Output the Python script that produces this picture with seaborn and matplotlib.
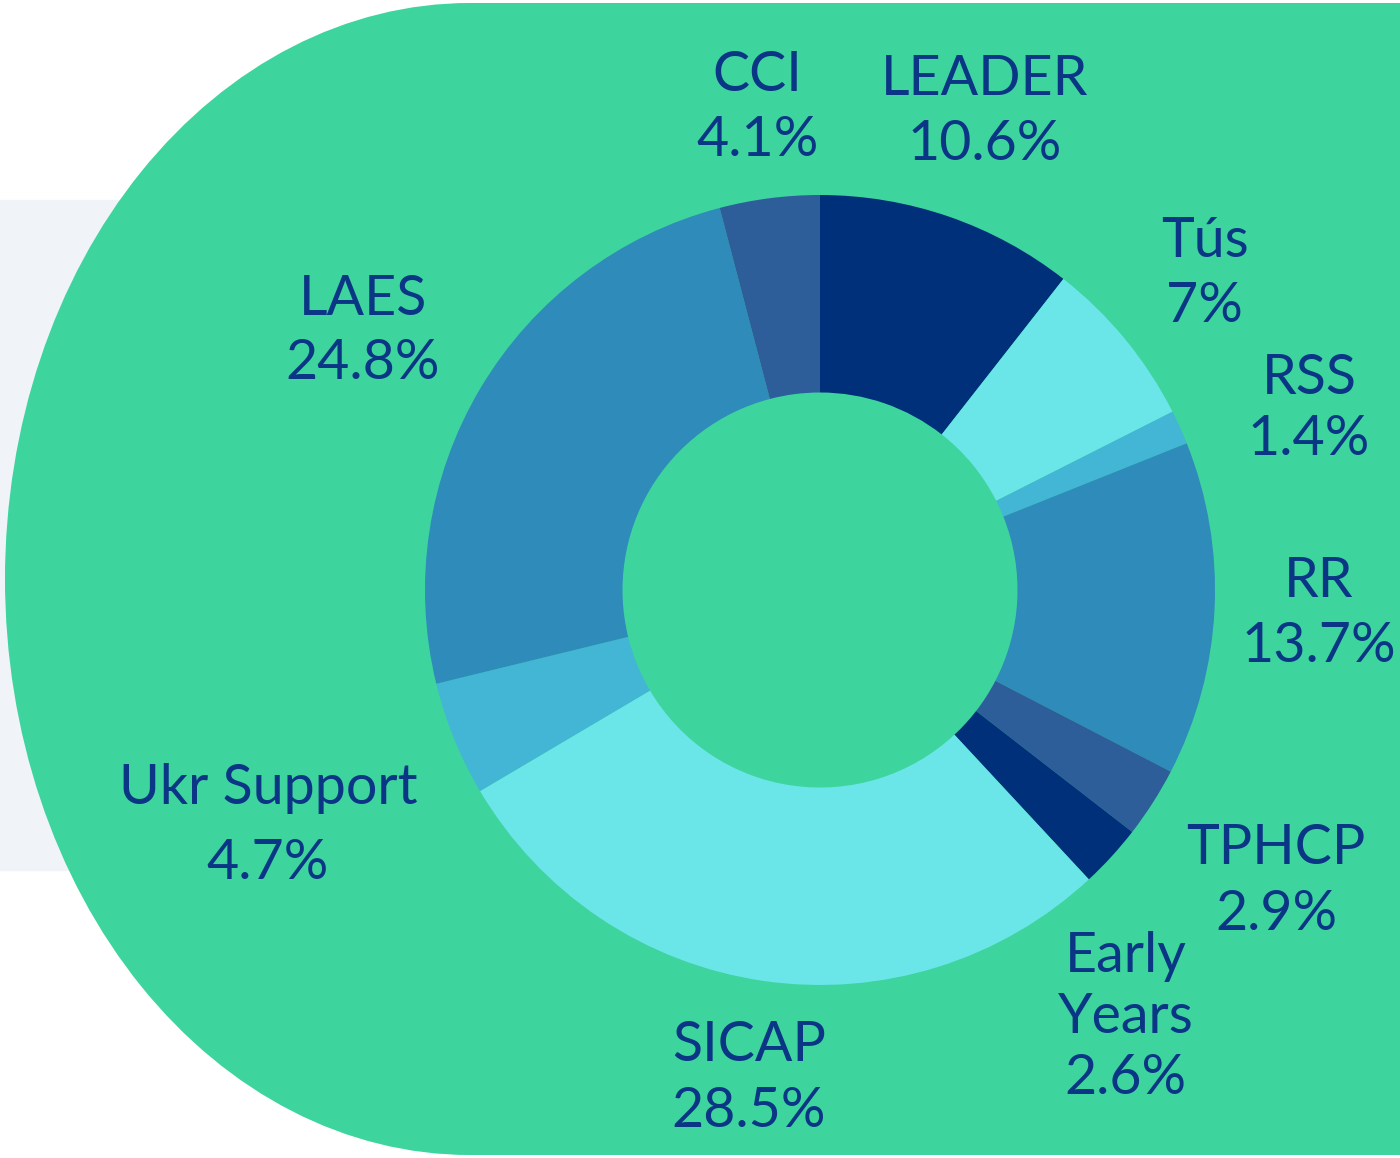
import numpy as np
import matplotlib
matplotlib.use('Agg')
import matplotlib.pyplot as plt
import matplotlib.patches as mpatches
import seaborn as sns

# data, clockwise from 12 o'clock
programmes = ['LEADER', 'Tús', 'RSS', 'RR', 'TPHCP', 'Early\nYears', 'SICAP', 'Ukr Support', 'LAES', 'CCI']
shares = [10.6, 7, 1.4, 13.7, 2.9, 2.6, 28.5, 4.7, 24.8, 4.1]
colours = ['#00307A', '#6AE5E8', '#42B6D4', '#2E8BBA', '#2E5E9A',
           '#00307A', '#6AE5E8', '#42B6D4', '#2E8BBA', '#2E5E9A']

# label placement: distance from centre (in radii) and small angle nudges (deg)
label_dist = [1.28, 1.26, 1.32, 1.265, 1.37, 1.33, 1.25, 1.52, 1.33, 1.23]
label_nudge = [0, 0, -4, 0, 0, -12, 0, 1, 1.3, 0]
line_sp = [1.35, 1.35, 1.25, 1.35, 1.35, 1.25, 1.35, 1.58, 1.3, 1.35]

sns.set_theme(style='white')
plt.rcParams['font.family'] = ['Lato', 'DejaVu Sans']

W, H = 1400, 1158
fig = plt.figure(figsize=(14, 11.58), dpi=100)
ax = fig.add_axes([0, 0, 1, 1])

# background shapes
ax.add_patch(mpatches.Rectangle((0, H - 870), 520, 670, color='#F0F3F8', zorder=0))
ax.add_patch(mpatches.Ellipse((470, H - 579), 930, 1152, color='#3DD49E', zorder=1, lw=0))
ax.add_patch(mpatches.Rectangle((470, H - 1155), W - 470, 1152, color='#3DD49E', zorder=1, lw=0))

cx, cy, R = 820, H - 590, 395
wedges, _ = ax.pie(shares, colors=sns.color_palette(colours), startangle=90, counterclock=False,
                   center=(cx, cy), radius=R, wedgeprops=dict(width=R * 0.5, linewidth=0, zorder=2),
                   frame=True)
ax.set_xlim(0, W)
ax.set_ylim(0, H)
ax.set_aspect('equal')
ax.axis('off')

for w, name, v, d, nd, ls in zip(wedges, programmes, shares, label_dist, label_nudge, line_sp):
    ang = np.deg2rad((w.theta1 + w.theta2) / 2 + nd)
    x = cx + d * R * np.cos(ang)
    y = cy + d * R * np.sin(ang)
    ax.text(x, y, f'{name}\n{v:g}%', ha='center', va='center', fontsize=40,
            color='#0B3585', linespacing=ls, zorder=3)

fig.savefig('out.png', dpi=100)
